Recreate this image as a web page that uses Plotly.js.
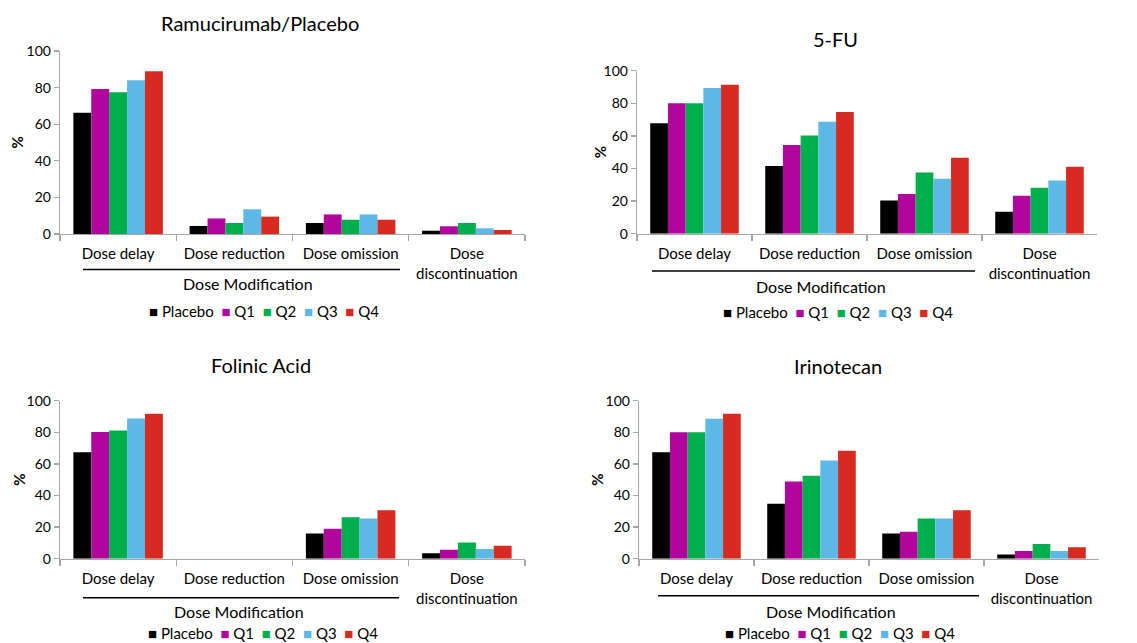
<!DOCTYPE html>
<html><head><meta charset="utf-8">
<script src="https://cdn.plot.ly/plotly-3.0.1.min.js"></script>
<style>html,body{margin:0;padding:0;background:#fff}#chart{width:1137px;height:643px}</style>
</head><body><div id="chart"></div>
<script>
const categories = ['Dose delay', 'Dose reduction', 'Dose omission', 'Dose<br>discontinuation'];
const seriesNames = ['Placebo', 'Q1', 'Q2', 'Q3', 'Q4'];
const seriesColors = ['#000000', '#B0069E', '#00AF4C', '#5DB8E6', '#D72A20'];
const panelTitles = ['Ramucirumab/Placebo', '5-FU', 'Folinic Acid', 'Irinotecan'];
const yTickValues = [0, 20, 40, 60, 80, 100];
const groupLabel = 'Dose Modification';
const yLabel = '%';
// rows = series (Placebo, Q1, Q2, Q3, Q4); columns = categories
const ramucirumabValues = [
  [66.2, 4.4, 6.0, 1.8],
  [79.3, 8.5, 10.7, 4.2],
  [77.5, 6.0, 7.8, 6.0],
  [84.0, 13.5, 10.7, 3.1],
  [88.9, 9.5, 7.8, 2.2]
];
const fluorouracilValues = [
  [67.7, 41.5, 20.4, 13.5],
  [80.0, 54.4, 24.3, 23.3],
  [80.0, 60.3, 37.6, 28.2],
  [89.4, 68.7, 33.7, 32.7],
  [91.4, 74.6, 46.6, 41.1]
];
const folinicAcidValues = [
  [67.3, 0, 16.0, 3.4],
  [80.2, 0, 19.0, 5.7],
  [81.2, 0, 26.2, 10.3],
  [88.8, 0, 25.5, 6.1],
  [91.8, 0, 30.6, 8.2]
];
const irinotecanValues = [
  [67.3, 34.8, 16.0, 2.7],
  [80.0, 48.9, 17.1, 4.9],
  [80.0, 52.5, 25.5, 9.3],
  [88.6, 62.2, 25.5, 4.9],
  [91.8, 68.4, 30.6, 7.2]
];

const W = 1137, H = 643;
const PX = v => v / W;
const PY = v => 1 - v / H;
const FONT = 'Lato, "Open Sans", sans-serif';
const AXIS_GREY = '#A6A6A6';

const panels = [
  {vals: ramucirumabValues, x0: 60, x1: 525, yTop: 51, yBot: 234, titleX: 260, titleY: 23, pctX: 17, dmX: 248, dmY: 283, ulX0: 83, ulX1: 400, ulY: 269.5, legX: 264, legY: 311},
  {vals: fluorouracilValues, x0: 637, x1: 1097, yTop: 70.7, yBot: 233.7, titleX: 835, titleY: 39, pctX: 600, dmX: 821, dmY: 286, ulX0: 652, ulX1: 975, ulY: 271, legX: 838, legY: 312},
  {vals: folinicAcidValues, x0: 60, x1: 525, yTop: 400.7, yBot: 558.7, titleX: 261, titleY: 365, pctX: 19, dmX: 239, dmY: 611, ulX0: 83, ulX1: 399, ulY: 597.7, legX: 263, legY: 633},
  {vals: irinotecanValues, x0: 639, x1: 1099, yTop: 400.7, yBot: 558.7, titleX: 838, titleY: 366, pctX: 597, dmX: 831, dmY: 611, ulX0: 658, ulX1: 979, ulY: 595.7, legX: 840, legY: 633}
];

const traces = [];
const layout = {
  width: W, height: H,
  margin: {l: 0, r: 0, t: 0, b: 0},
  paper_bgcolor: '#ffffff', plot_bgcolor: '#ffffff',
  font: {family: FONT, color: '#000000', size: 14},
  barmode: 'group', bargap: 0.23, bargroupgap: 0,
  showlegend: false,
  annotations: [], shapes: []
};

const legendText = seriesNames.map((n, i) =>
  '<span style="color:' + seriesColors[i] + '">■</span>&nbsp;' + n).join('&nbsp;&nbsp;');

panels.forEach((p, k) => {
  const n = k + 1;
  const xa = 'x' + (n === 1 ? '' : n), ya = 'y' + (n === 1 ? '' : n);
  p.vals.forEach((row, s) => {
    traces.push({
      type: 'bar', name: seriesNames[s], x: categories, y: row,
      xaxis: xa, yaxis: ya,
      marker: {color: seriesColors[s], line: {width: 0}},
      hoverinfo: 'x+y+name'
    });
  });
  layout['xaxis' + (n === 1 ? '' : n)] = {
    domain: [PX(p.x0), PX(p.x1)], anchor: ya,
    type: 'category', categoryorder: 'array', categoryarray: categories,
    showline: true, linecolor: AXIS_GREY, linewidth: 1.3,
    ticks: 'outside', tickson: 'boundaries', ticklen: 6, tickcolor: AXIS_GREY, tickwidth: 1.3,
    tickfont: {size: 15, family: FONT, color: '#000'}, ticklabelstandoff: 6,
    showgrid: false, zeroline: false, fixedrange: true
  };
  layout['yaxis' + (n === 1 ? '' : n)] = {
    domain: [PY(p.yBot), PY(p.yTop)], anchor: xa,
    range: [0, 100], tickvals: yTickValues, ticktext: yTickValues.map(String),
    showline: true, linecolor: AXIS_GREY, linewidth: 1.3,
    ticks: 'outside', ticklen: 5, tickcolor: AXIS_GREY, tickwidth: 1.3,
    tickfont: {size: 14, family: FONT, color: '#000'},
    showgrid: false, zeroline: false, fixedrange: true
  };
  layout.annotations.push(
    {text: panelTitles[k], xref: 'paper', yref: 'paper', x: PX(p.titleX), y: PY(p.titleY), xanchor: 'center', yanchor: 'middle', showarrow: false, font: {size: 20, family: FONT, color: '#000'}},
    {text: '<b>' + yLabel + '</b>', textangle: -90, xref: 'paper', yref: 'paper', x: PX(p.pctX), y: PY((p.yTop + p.yBot) / 2), xanchor: 'center', yanchor: 'middle', showarrow: false, font: {size: 15, family: FONT, color: '#000'}},
    {text: groupLabel, xref: 'paper', yref: 'paper', x: PX(p.dmX), y: PY(p.dmY), xanchor: 'center', yanchor: 'middle', showarrow: false, font: {size: 16, family: FONT, color: '#000'}},
    {text: legendText, xref: 'paper', yref: 'paper', x: PX(p.legX), y: PY(p.legY), xanchor: 'center', yanchor: 'middle', showarrow: false, font: {size: 15, family: FONT, color: '#000'}}
  );
  layout.shapes.push({type: 'line', xref: 'paper', yref: 'paper', x0: PX(p.ulX0), x1: PX(p.ulX1), y0: PY(p.ulY), y1: PY(p.ulY), line: {color: '#000', width: 1.5}});
});

Plotly.newPlot('chart', traces, layout, {displayModeBar: false, staticPlot: true});
</script>
</body></html>
